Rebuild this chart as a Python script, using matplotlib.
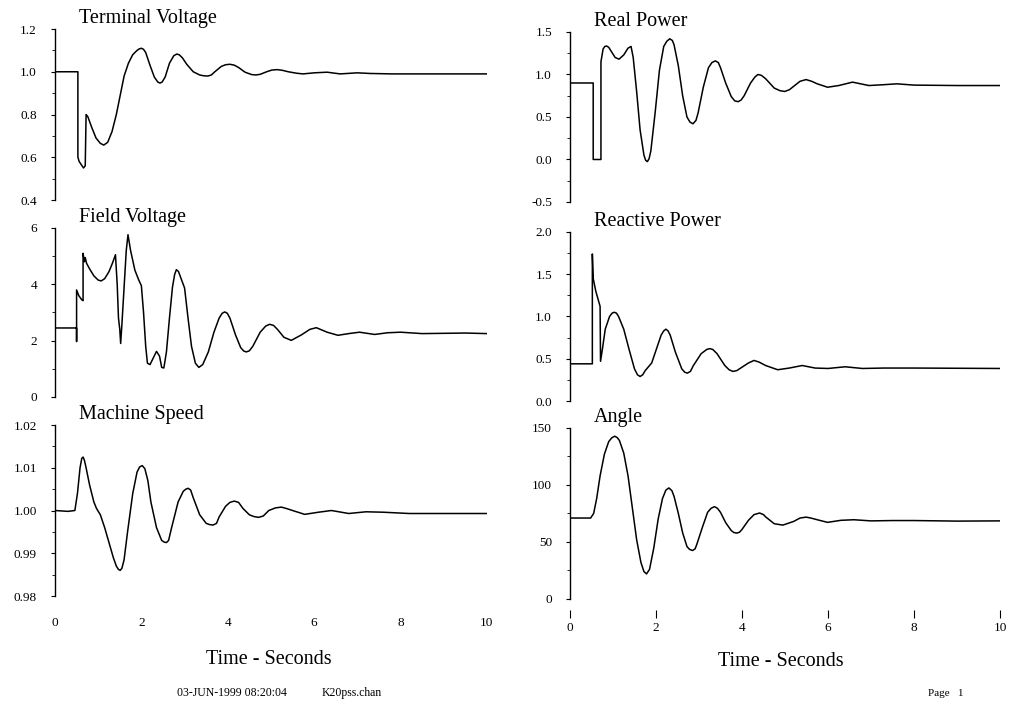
"""
Trace de la reponse transitoire - six grandeurs machine
"""

import matplotlib
matplotlib.use("Agg")
import matplotlib.pyplot as plt
from matplotlib.ticker import MultipleLocator, FormatStrFormatter

plt.rcParams['font.family'] = ['Liberation Serif', 'DejaVu Serif']

# ---- donnees ----
t_vt = [0, 0.53, 0.53, 0.56, 0.66, 0.70, 0.72, 0.76, 0.85, 0.95, 1.05, 1.13, 1.22, 1.32, 1.42, 1.52,
        1.6, 1.7, 1.8, 1.9, 1.95, 2.0, 2.05, 2.1, 2.2, 2.3, 2.38, 2.43, 2.48, 2.55, 2.65, 2.75, 2.82, 2.88,
        2.95, 3.05, 3.2, 3.35, 3.45, 3.54, 3.62, 3.7, 3.85, 3.95, 4.05, 4.15, 4.25, 4.4, 4.55, 4.65, 4.75,
        4.9, 5.02, 5.14, 5.26, 5.4, 5.6, 5.74, 5.9, 6.0, 6.3, 6.6, 7.0, 7.3, 7.8, 10.0]
v_vt = [1.0, 1.0, 0.6, 0.58, 0.55, 0.56, 0.80, 0.79, 0.74, 0.69, 0.665, 0.657, 0.67, 0.72, 0.80, 0.90,
        0.98, 1.04, 1.08, 1.10, 1.107, 1.11, 1.105, 1.09, 1.03, 0.975, 0.952, 0.947, 0.952, 0.975, 1.04,
        1.075, 1.083, 1.079, 1.065, 1.035, 1.0, 0.985, 0.981, 0.98, 0.985, 1.0, 1.025, 1.033, 1.035, 1.031,
        1.02, 0.998, 0.987, 0.985, 0.988, 1.0, 1.008, 1.01, 1.007, 1.0, 0.993, 0.99, 0.993, 0.995, 0.998,
        0.99, 0.995, 0.992, 0.99, 0.99]

t_fv = [0, 0.5, 0.5, 0.5, 0.55, 0.62, 0.65, 0.65, 0.68, 0.70, 0.73, 0.8, 0.9, 1.0, 1.07, 1.15, 1.25, 1.33,
        1.40, 1.44, 1.47, 1.50, 1.52, 1.55, 1.6, 1.65, 1.69, 1.75, 1.85, 1.94, 2.0, 2.05, 2.1, 2.14, 2.2,
        2.28, 2.35, 2.42, 2.47, 2.52, 2.58, 2.65, 2.72, 2.77, 2.81, 2.86, 2.92, 3.0, 3.08, 3.16, 3.25, 3.33,
        3.42, 3.55, 3.68, 3.8, 3.87, 3.93, 3.99, 4.05, 4.18, 4.3, 4.37, 4.43, 4.5, 4.58, 4.75, 4.88, 4.97,
        5.06, 5.15, 5.3, 5.47, 5.7, 5.9, 6.05, 6.3, 6.55, 6.8, 7.05, 7.4, 7.7, 8.0, 8.5, 9.0, 9.5, 10.0]
v_fv = [2.45, 2.45, 1.97, 3.8, 3.6, 3.45, 3.42, 5.1, 4.8, 4.95, 4.75, 4.55, 4.3, 4.15, 4.12, 4.2, 4.45, 4.75,
        5.05, 4.0, 2.8, 2.4, 1.9, 2.6, 3.9, 5.2, 5.76, 5.2, 4.5, 4.15, 3.95, 3.0, 1.8, 1.2, 1.15,
        1.4, 1.62, 1.45, 1.05, 1.03, 1.6, 2.8, 3.9, 4.35, 4.52, 4.45, 4.2, 3.87, 2.8, 1.8, 1.2, 1.05,
        1.15, 1.6, 2.3, 2.8, 2.97, 3.02, 2.97, 2.8, 2.2, 1.75, 1.63, 1.6, 1.64, 1.8, 2.3, 2.52, 2.58,
        2.54, 2.4, 2.12, 2.01, 2.2, 2.4, 2.46, 2.3, 2.19, 2.25, 2.3, 2.22, 2.28, 2.3, 2.25, 2.26, 2.27, 2.25]

t_ms = [0, 0.3, 0.46, 0.52, 0.58, 0.62, 0.65, 0.68, 0.72, 0.8, 0.9, 0.96, 1.05, 1.15, 1.25, 1.35, 1.42,
        1.47, 1.51, 1.55, 1.6, 1.68, 1.8, 1.9, 1.96, 2.02, 2.08, 2.15, 2.22, 2.35, 2.47, 2.53, 2.58, 2.63,
        2.7, 2.85, 2.97, 3.03, 3.08, 3.14, 3.2, 3.35, 3.5, 3.58, 3.66, 3.74, 3.8, 3.95, 4.05, 4.15, 4.25,
        4.35, 4.5, 4.6, 4.71, 4.82, 4.95, 5.1, 5.24, 5.38, 5.5, 5.78, 6.1, 6.4, 6.8, 7.2, 7.6, 8.2, 10.0]
v_ms = [1.0, 0.9998, 1.0, 1.004, 1.010, 1.0122, 1.0125, 1.0118, 1.010, 1.006, 1.002, 1.0005, 0.999, 0.996,
        0.9925, 0.989, 0.987, 0.9862, 0.986, 0.9865, 0.9885, 0.995, 1.004, 1.009, 1.0102, 1.0105, 1.0098,
        1.007, 1.002, 0.996, 0.993, 0.9926, 0.9925, 0.993, 0.996, 1.002, 1.0045, 1.005, 1.0052, 1.0048,
        1.003, 0.999, 0.997, 0.9967, 0.9966, 0.997, 0.9985, 1.001, 1.0019, 1.0022, 1.0019, 1.0005, 0.999,
        0.9986, 0.9984, 0.9987, 1.0, 1.0006, 1.0008, 1.0004, 1.0, 0.9991, 0.9996, 1.0, 0.9993, 0.9997,
        0.9996, 0.9993, 0.9993]

t_p = [0, 0.54, 0.54, 0.72, 0.72, 0.77, 0.81, 0.85, 0.9, 0.95, 1.05, 1.14, 1.25, 1.35, 1.42, 1.47, 1.55,
       1.63, 1.72, 1.76, 1.80, 1.84, 1.88, 1.98, 2.08, 2.18, 2.25, 2.32, 2.38, 2.42, 2.52, 2.62, 2.72,
       2.79, 2.86, 2.93, 2.98, 3.1, 3.22, 3.30, 3.38, 3.45, 3.5, 3.62, 3.75, 3.83, 3.91, 3.98, 4.05, 4.2,
       4.3, 4.37, 4.45, 4.55, 4.75, 4.88, 4.99, 5.1, 5.2, 5.35, 5.49, 5.62, 5.75, 5.99, 6.25, 6.57, 6.95,
       7.3, 7.6, 8.0, 9.0, 10.0]
v_p = [0.9, 0.9, 0.0, 0.0, 1.15, 1.3, 1.33, 1.335, 1.32, 1.28, 1.2, 1.18, 1.23, 1.31, 1.33, 1.2, 0.8,
       0.35, 0.05, -0.01, -0.025, 0.01, 0.1, 0.55, 1.05, 1.33, 1.39, 1.42, 1.40, 1.35, 1.1, 0.75, 0.5,
       0.44, 0.42, 0.46, 0.55, 0.85, 1.08, 1.14, 1.16, 1.14, 1.08, 0.9, 0.74, 0.69, 0.68, 0.7, 0.75, 0.9,
       0.97, 1.0, 0.99, 0.95, 0.84, 0.81, 0.8, 0.82, 0.86, 0.92, 0.94, 0.92, 0.89, 0.85, 0.87, 0.91, 0.87,
       0.88, 0.89, 0.875, 0.87, 0.87]

t_q = [0, 0.52, 0.52, 0.54, 0.6, 0.7, 0.71, 0.75, 0.82, 0.92, 0.98, 1.03, 1.08, 1.13, 1.25, 1.38, 1.5,
       1.57, 1.63, 1.69, 1.75, 1.9, 2.0, 2.12, 2.18, 2.23, 2.28, 2.33, 2.45, 2.6, 2.67, 2.73, 2.8, 2.87,
       3.05, 3.18, 3.25, 3.32, 3.42, 3.6, 3.7, 3.79, 3.88, 4.0, 4.15, 4.28, 4.4, 4.55, 4.83, 5.1, 5.4,
       5.7, 6.0, 6.4, 6.8, 7.3, 8.0, 10.0]
v_q = [0.44, 0.44, 1.74, 1.45, 1.3, 1.12, 0.47, 0.6, 0.85, 1.0, 1.04, 1.05, 1.04, 1.0, 0.85, 0.6, 0.38,
       0.31, 0.29, 0.31, 0.36, 0.45, 0.6, 0.78, 0.83, 0.85, 0.83, 0.78, 0.58, 0.38, 0.34, 0.33, 0.35, 0.42,
       0.56, 0.61, 0.62, 0.61, 0.56, 0.42, 0.37, 0.35, 0.36, 0.4, 0.45, 0.48, 0.46, 0.42, 0.37, 0.39, 0.42,
       0.39, 0.385, 0.405, 0.385, 0.39, 0.39, 0.385]

t_ang = [0, 0.48, 0.55, 0.62, 0.7, 0.8, 0.9, 0.97, 1.04, 1.10, 1.15, 1.25, 1.35, 1.45, 1.55, 1.65, 1.72,
         1.78, 1.85, 1.95, 2.05, 2.15, 2.23, 2.3, 2.37, 2.42, 2.52, 2.62, 2.72, 2.78, 2.85, 2.91, 2.95,
         3.08, 3.2, 3.28, 3.36, 3.43, 3.5, 3.62, 3.75, 3.81, 3.88, 3.94, 4.0, 4.15, 4.28, 4.41, 4.5, 4.55,
         4.75, 4.95, 5.2, 5.35, 5.49, 5.6, 5.75, 5.99, 6.3, 6.6, 7.0, 7.5, 8.0, 9.0, 10.0]
v_ang = [71, 71, 75, 88, 108, 127, 138, 141.3, 142.8, 141.5, 139, 128, 108, 80, 52, 32, 24,
         22, 26, 45, 70, 88, 95.5, 97.4, 95, 90, 75, 58, 46, 43.5, 42.5, 44, 48,
         63, 76, 79.5, 81, 79.5, 76, 67, 60, 58.3, 57.8, 58.5, 61, 69, 74, 75.4, 74, 72,
         66, 64.8, 68, 71, 71.8, 71, 69.5, 67.2, 69, 69.5, 68.5, 68.8, 68.8, 68.3, 68.5]

x_ticks = [0, 2, 4, 6, 8, 10]


def tracer(fig, rect, t, v, titre, ylim, pas, pas_min, fmt, bas=None):
    ax = fig.add_axes(rect)
    ax.plot(t, v, color="black", lw=1.1)
    ax.set_xlim(0, 10)
    ax.set_ylim(*ylim)
    for s in ["top", "right", "bottom"]:
        ax.spines[s].set_visible(False)
    ax.spines["left"].set_linewidth(1.0)
    ax.yaxis.set_major_locator(MultipleLocator(pas))
    ax.yaxis.set_minor_locator(MultipleLocator(pas_min))
    ax.yaxis.set_major_formatter(FormatStrFormatter(fmt))
    ax.tick_params(axis="y", which="major", length=3, width=0.8, pad=10, labelsize=9.5)
    ax.tick_params(axis="y", which="minor", length=2, width=0.6)
    ax.set_xticks(x_ticks)
    if bas is None:
        ax.tick_params(axis="x", length=0, labelbottom=False)
    elif bas == "gauche":
        ax.tick_params(axis="x", length=0, pad=15, labelsize=9.5)
    else:
        ax.spines["bottom"].set_position(("outward", 8))
        ax.tick_params(axis="x", length=5.5, width=0.8, pad=3, labelsize=9.5)
    ax.text(0.055, 1.035, titre, transform=ax.transAxes, fontsize=14.5, ha="left", va="baseline")
    return ax


fig = plt.figure(figsize=(10.09, 7.06), dpi=100)

tracer(fig, [0.0545, 0.7167, 0.4281, 0.2422], t_vt, v_vt, "Terminal Voltage", (0.4, 1.2), 0.2, 0.1, "%.1f")
tracer(fig, [0.0545, 0.4377, 0.4281, 0.2394], t_fv, v_fv, "Field Voltage", (0, 6), 2, 1, "%d")
tracer(fig, [0.0545, 0.1558, 0.4281, 0.2422], t_ms, v_ms, "Machine Speed", (0.98, 1.02), 0.01, 0.005, "%.2f", bas="gauche")
tracer(fig, [0.5649, 0.7139, 0.4262, 0.2408], t_p, v_p, "Real Power", (-0.5, 1.5), 0.5, 0.25, "%.1f")
tracer(fig, [0.5649, 0.4320, 0.4262, 0.2394], t_q, v_q, "Reactive Power", (0.0, 2.0), 0.5, 0.25, "%.1f")
tracer(fig, [0.5649, 0.1516, 0.4262, 0.2422], t_ang, v_ang, "Angle", (0, 150), 50, 25, "%d", bas="droite")

fig.text(269 / 1009, 1 - 660 / 706, "Time - Seconds", fontsize=14.5, ha="center", va="center")
fig.text(781 / 1009, 1 - 662 / 706, "Time - Seconds", fontsize=14.5, ha="center", va="center")
fig.text(177 / 1009, 1 - 693 / 706, "03-JUN-1999 08:20:04", fontsize=8.5, ha="left", va="center")
fig.text(322 / 1009, 1 - 693 / 706, "K20pss.chan", fontsize=8.5, ha="left", va="center")
fig.text(928 / 1009, 1 - 693 / 706, "Page   1", fontsize=8, ha="left", va="center")

fig.savefig("out.png", dpi=100, facecolor="white")
